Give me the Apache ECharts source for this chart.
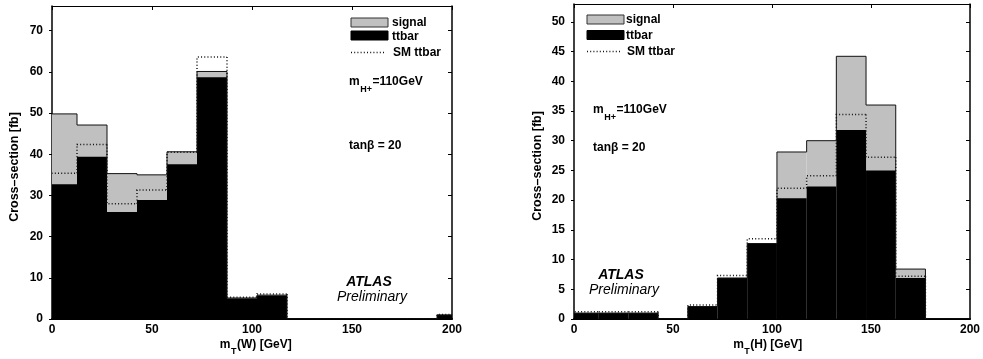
<!DOCTYPE html>
<html><head><meta charset="utf-8">
<script src="https://cdn.jsdelivr.net/npm/echarts@6/dist/echarts.min.js"></script>
<style>html,body{margin:0;padding:0;background:#fff}#c{width:983px;height:359px}</style>
</head><body><div id="c"></div>
<script>
// ---- data ----
const binLow  = [-2.5, 12.5, 27.5, 42.5, 57.5, 72.5, 87.5, 102.5, 117.5, 132.5, 147.5, 162.5, 177.5, 192.5];
const binHigh = [12.5, 27.5, 42.5, 57.5, 72.5, 87.5, 102.5, 117.5, 132.5, 147.5, 162.5, 177.5, 192.5, 207.5];

const leftTtbar  = [32.7, 39.4, 26.0, 28.9, 37.6, 58.7, 5.0, 5.7, 0, 0, 0, 0, 0, 1.0];
const leftSignal = [17.1, 7.7, 9.3, 6.1, 3.0, 1.4, 0.1, 0.1, 0, 0, 0, 0, 0, 0];
const leftSM     = [35.4, 42.4, 28.0, 31.3, 40.5, 63.6, 5.3, 6.1, 0, 0, 0, 0, 0, 1.1];

const rightTtbar  = [1.0, 1.0, 1.0, 0, 2.1, 6.9, 12.6, 20.3, 22.3, 31.8, 25.0, 6.9, 0, 0];
const rightSignal = [0, 0, 0, 0, 0, 0, 0.1, 7.8, 7.7, 12.4, 11.0, 1.5, 0, 0];
const rightSM     = [1.2, 1.2, 1.2, 0, 2.35, 7.3, 13.5, 22.0, 24.1, 34.4, 27.2, 7.2, 0, 0];

const legendNames = ['signal', 'ttbar', 'SM ttbar'];
const yTitle = 'Cross\u2013section [fb]';
const xTitleVar = ['W', 'H'];
const massText = '=110GeV';
const tanbText = 'tan\u03b2 = 20';

// ---- helpers ----
const FONT = '"Liberation Sans", Arial, Helvetica, sans-serif';
const mctx = document.createElement('canvas').getContext('2d');
function tw(text, size) { mctx.font = 'bold ' + size + 'px ' + FONT; return mctx.measureText(text).width; }

function rows(values) {
  return values.map((v, i) => [binLow[i], binHigh[i], v, i > 0 ? values[i - 1] : 0, i === values.length - 1 ? 1 : 0]);
}
function sum(a, b) { return a.map((v, i) => v + b[i]); }

function rectSeries(g, values, color) {
  return {
    type: 'custom', xAxisIndex: g * 2, yAxisIndex: g * 2, clip: true, silent: true,
    data: rows(values), encode: { x: [0, 1], y: 2 },
    renderItem: function (params, api) {
      const v = api.value(2);
      if (!(v > 0)) return null;
      const p0 = api.coord([api.value(0), v]);
      const p1 = api.coord([api.value(1), 0]);
      return { type: 'rect', shape: { x: p0[0], y: p0[1], width: p1[0] - p0[0], height: p1[1] - p0[1] },
               style: { fill: color, stroke: null } };
    }
  };
}
function stepSeries(g, values, style) {
  return {
    type: 'custom', xAxisIndex: g * 2, yAxisIndex: g * 2, clip: true, silent: true, z: 5,
    data: rows(values), encode: { x: [0, 1], y: 2 },
    renderItem: function (params, api) {
      const lo = api.value(0), hi = api.value(1), v = api.value(2), pv = api.value(3), last = api.value(4);
      const pts = [api.coord([lo, pv]), api.coord([lo, v]), api.coord([hi, v])];
      if (last) pts.push(api.coord([hi, 0]));
      return { type: 'polyline', shape: { points: pts }, style: Object.assign({ fill: null }, style) };
    }
  };
}
function axes(g, ymax, yint) {
  const lab = { fontSize: 12, fontWeight: 'bold', color: '#000', fontFamily: FONT };
  return {
    x: [
      { type: 'value', gridIndex: g, position: 'bottom', min: 0, max: 200, interval: 50,
        axisLine: { show: true, onZero: false, lineStyle: { color: '#000', width: 2 } },
        axisTick: { show: false }, splitLine: { show: false },
        axisLabel: Object.assign({ margin: 5 }, lab) },
      { type: 'value', gridIndex: g, position: 'top', min: 0, max: 200, interval: 50,
        axisLine: { show: true, onZero: false, lineStyle: { color: '#000', width: 1 } },
        axisTick: { show: true, inside: true, length: 4, lineStyle: { color: '#000' } },
        splitLine: { show: false }, axisLabel: { show: false } }
    ],
    y: [
      { type: 'value', gridIndex: g, position: 'left', min: 0, max: ymax, interval: yint,
        axisLine: { show: true, onZero: false, lineStyle: { color: '#000', width: 1.5 } },
        axisTick: { show: true, length: 3, lineStyle: { color: '#000' } }, splitLine: { show: false },
        axisLabel: Object.assign({ margin: 9, showMaxLabel: false }, lab) },
      { type: 'value', gridIndex: g, position: 'right', min: 0, max: ymax, interval: yint,
        axisLine: { show: true, onZero: false, lineStyle: { color: '#000', width: 1.5 } },
        axisTick: { show: true, inside: true, length: 4, lineStyle: { color: '#000' } },
        splitLine: { show: false }, axisLabel: { show: false } }
    ]
  };
}
const a0 = axes(0, 76, 10), a1 = axes(1, 53, 5);

const dotted = { stroke: '#111', lineWidth: 1.5, lineDash: [1, 2.2] };
const solid = { stroke: '#111', lineWidth: 1 };

function txt(x, y, text, size, extra) {
  return { type: 'text', x: x, y: y, style: Object.assign({ text: text, fontSize: size, fontWeight: 'bold', fill: '#000', fontFamily: FONT, verticalAlign: 'middle', align: 'left' }, extra || {}) };
}
function legend(x, ys, textX) {
  return [
    { type: 'rect', shape: { x: x, y: ys[0] - 4.5, width: 37, height: 9 }, style: { fill: '#c0c0c0', stroke: '#333', lineWidth: 1 } },
    { type: 'rect', shape: { x: x, y: ys[1] - 4.5, width: 37, height: 9 }, style: { fill: '#000', stroke: '#000' } },
    { type: 'line', shape: { x1: x, y1: ys[2], x2: x + 33, y2: ys[2] }, style: dotted },
    txt(textX, ys[0], legendNames[0], 12),
    txt(textX, ys[1] + 1, legendNames[1], 12),
    txt(textX + 1, ys[2], legendNames[2], 12)
  ];
}
// main text + subscript + rest, positioned from measured widths
function subText(x, y, main, sub, rest, dy) {
  const w1 = tw(main, 12), w2 = tw(sub, 9);
  return [txt(x, y, main, 12), txt(x + w1 + 0.5, y + dy, sub, 9), txt(x + w1 + w2 + 1, y, rest, 12)];
}
function xTitle(cx, cy, v) {
  const rest = '(' + v + ') [GeV]';
  const total = tw('m', 12) + tw('T', 9) + tw(rest, 12) + 1.5;
  return subText(cx - total / 2, cy, 'm', 'T', rest, 7);
}
function yTitleEl(cx, cy) {
  return { type: 'text', x: cx, y: cy, rotation: Math.PI / 2, style: { text: yTitle, fontSize: 12.5, fontWeight: 'bold', fill: '#000', fontFamily: FONT, align: 'center', verticalAlign: 'middle' } };
}
function atlas(cx, cy) {
  return [
    { type: 'text', x: cx, y: cy, style: { text: 'ATLAS', fontSize: 14, fontWeight: 'bold', fontStyle: 'italic', fill: '#000', fontFamily: FONT, align: 'center', verticalAlign: 'middle' } },
    { type: 'text', x: cx + 3, y: cy + 15.5, style: { text: 'Preliminary', fontSize: 14, fontStyle: 'italic', fill: '#000', fontFamily: FONT, align: 'center', verticalAlign: 'middle' } }
  ];
}

const option = {
  animation: false,
  backgroundColor: '#fff',
  grid: [
    { left: 52, right: 531, top: 6, bottom: 40, show: false },
    { left: 574, right: 11, top: 4, bottom: 40, show: false }
  ],
  xAxis: a0.x.concat(a1.x.map(a => Object.assign(a, { gridIndex: 1 }))),
  yAxis: a0.y.concat(a1.y.map(a => Object.assign(a, { gridIndex: 1 }))),
  series: [
    rectSeries(0, sum(leftTtbar, leftSignal), '#c0c0c0'),
    rectSeries(0, leftTtbar, '#000'),
    stepSeries(0, sum(leftTtbar, leftSignal), solid),
    stepSeries(0, leftSM, dotted),
    rectSeries(1, sum(rightTtbar, rightSignal), '#c0c0c0'),
    rectSeries(1, rightTtbar, '#000'),
    stepSeries(1, sum(rightTtbar, rightSignal), solid),
    stepSeries(1, rightSM, dotted)
  ],
  graphic: [].concat(
    legend(351, [22.5, 35.5, 52.5], 392),
    legend(587, [19.5, 35, 51.5], 626),
    subText(349, 82, 'm', 'H+', massText, 8), [txt(349, 146, tanbText, 12)],
    subText(593, 110, 'm', 'H+', massText, 8), [txt(593, 148, tanbText, 12)],
    atlas(369, 282), atlas(621, 275),
    xTitle(256, 345, xTitleVar[0]), xTitle(768, 345, xTitleVar[1]),
    [yTitleEl(15, 167), yTitleEl(538, 166)]
  )
};
const chart = echarts.init(document.getElementById('c'), null, { renderer: 'canvas' });
chart.setOption(option);
</script></body></html>
